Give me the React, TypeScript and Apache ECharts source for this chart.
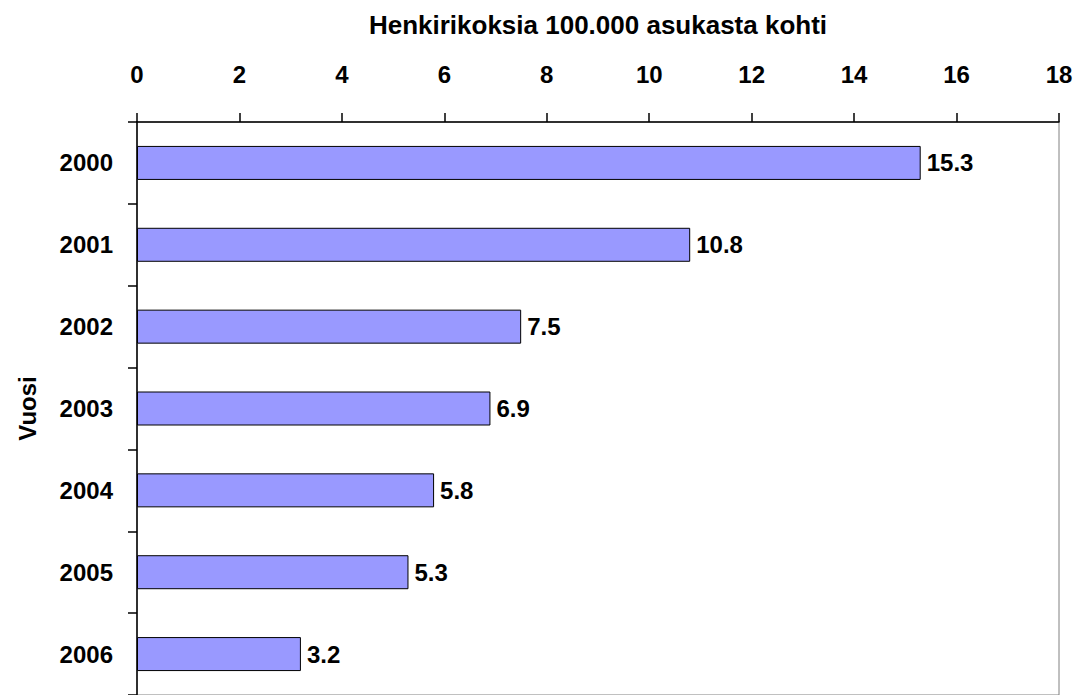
import React, { useEffect, useRef } from "react";
import * as echarts from "echarts";

const years = ["2000", "2001", "2002", "2003", "2004", "2005", "2006"];
const rates = [15.3, 10.8, 7.5, 6.9, 5.8, 5.3, 3.2];
const xTitle = "Henkirikoksia 100.000 asukasta kohti";
const yTitle = "Vuosi";

const FONT = "'Liberation Sans', Arial, sans-serif";

export default function App() {
  const ref = useRef<HTMLDivElement>(null);
  useEffect(() => {
    if (!ref.current) return;
    const chart = echarts.init(ref.current, null, { renderer: "svg" });
    chart.setOption({
      animation: false,
      backgroundColor: "#fff",
      textStyle: { fontFamily: FONT },
      grid: {
        left: 137,
        top: 122,
        width: 922,
        height: 583,
        show: true,
        borderColor: "#808080",
        borderWidth: 1,
        backgroundColor: "transparent",
      },
      xAxis: {
        type: "value",
        position: "top",
        min: 0,
        max: 18,
        interval: 2,
        name: xTitle,
        nameLocation: "middle",
        nameGap: 84,
        nameTextStyle: { fontFamily: FONT, fontWeight: "bold", fontSize: 26, color: "#000" },
        axisLine: { show: true, lineStyle: { color: "#000", width: 1.5 } },
        axisTick: { show: true, length: 9, lineStyle: { color: "#000", width: 1.5 } },
        axisLabel: { margin: 36, fontFamily: FONT, fontWeight: "bold", fontSize: 24, color: "#000" },
        splitLine: { show: false },
      },
      yAxis: {
        type: "category",
        data: years,
        inverse: true,
        name: yTitle,
        nameLocation: "middle",
        nameGap: 98,
        nameRotate: 90,
        nameTextStyle: { fontFamily: FONT, fontWeight: "bold", fontSize: 24, color: "#000" },
        axisLine: { show: true, lineStyle: { color: "#000", width: 1.5 } },
        axisTick: { show: true, length: 9, lineStyle: { color: "#000", width: 1.5 } },
        axisLabel: { margin: 24, fontFamily: FONT, fontWeight: "bold", fontSize: 24, color: "#000" },
      },
      series: [
        {
          type: "bar",
          data: rates,
          barWidth: 34,
          itemStyle: { color: "#9999FF", borderColor: "#000", borderWidth: 1 },
          label: {
            show: true,
            position: "right",
            distance: 6,
            formatter: (p: any) => Number(p.value).toFixed(1),
            fontFamily: FONT,
            fontWeight: "bold",
            fontSize: 24,
            color: "#000",
          },
        },
      ],
    });
    return () => chart.dispose();
  }, []);
  return (
    <div
      ref={ref}
      style={{ position: "fixed", left: 0, top: 0, width: 1087, height: 695, background: "#fff" }}
    />
  );
}
